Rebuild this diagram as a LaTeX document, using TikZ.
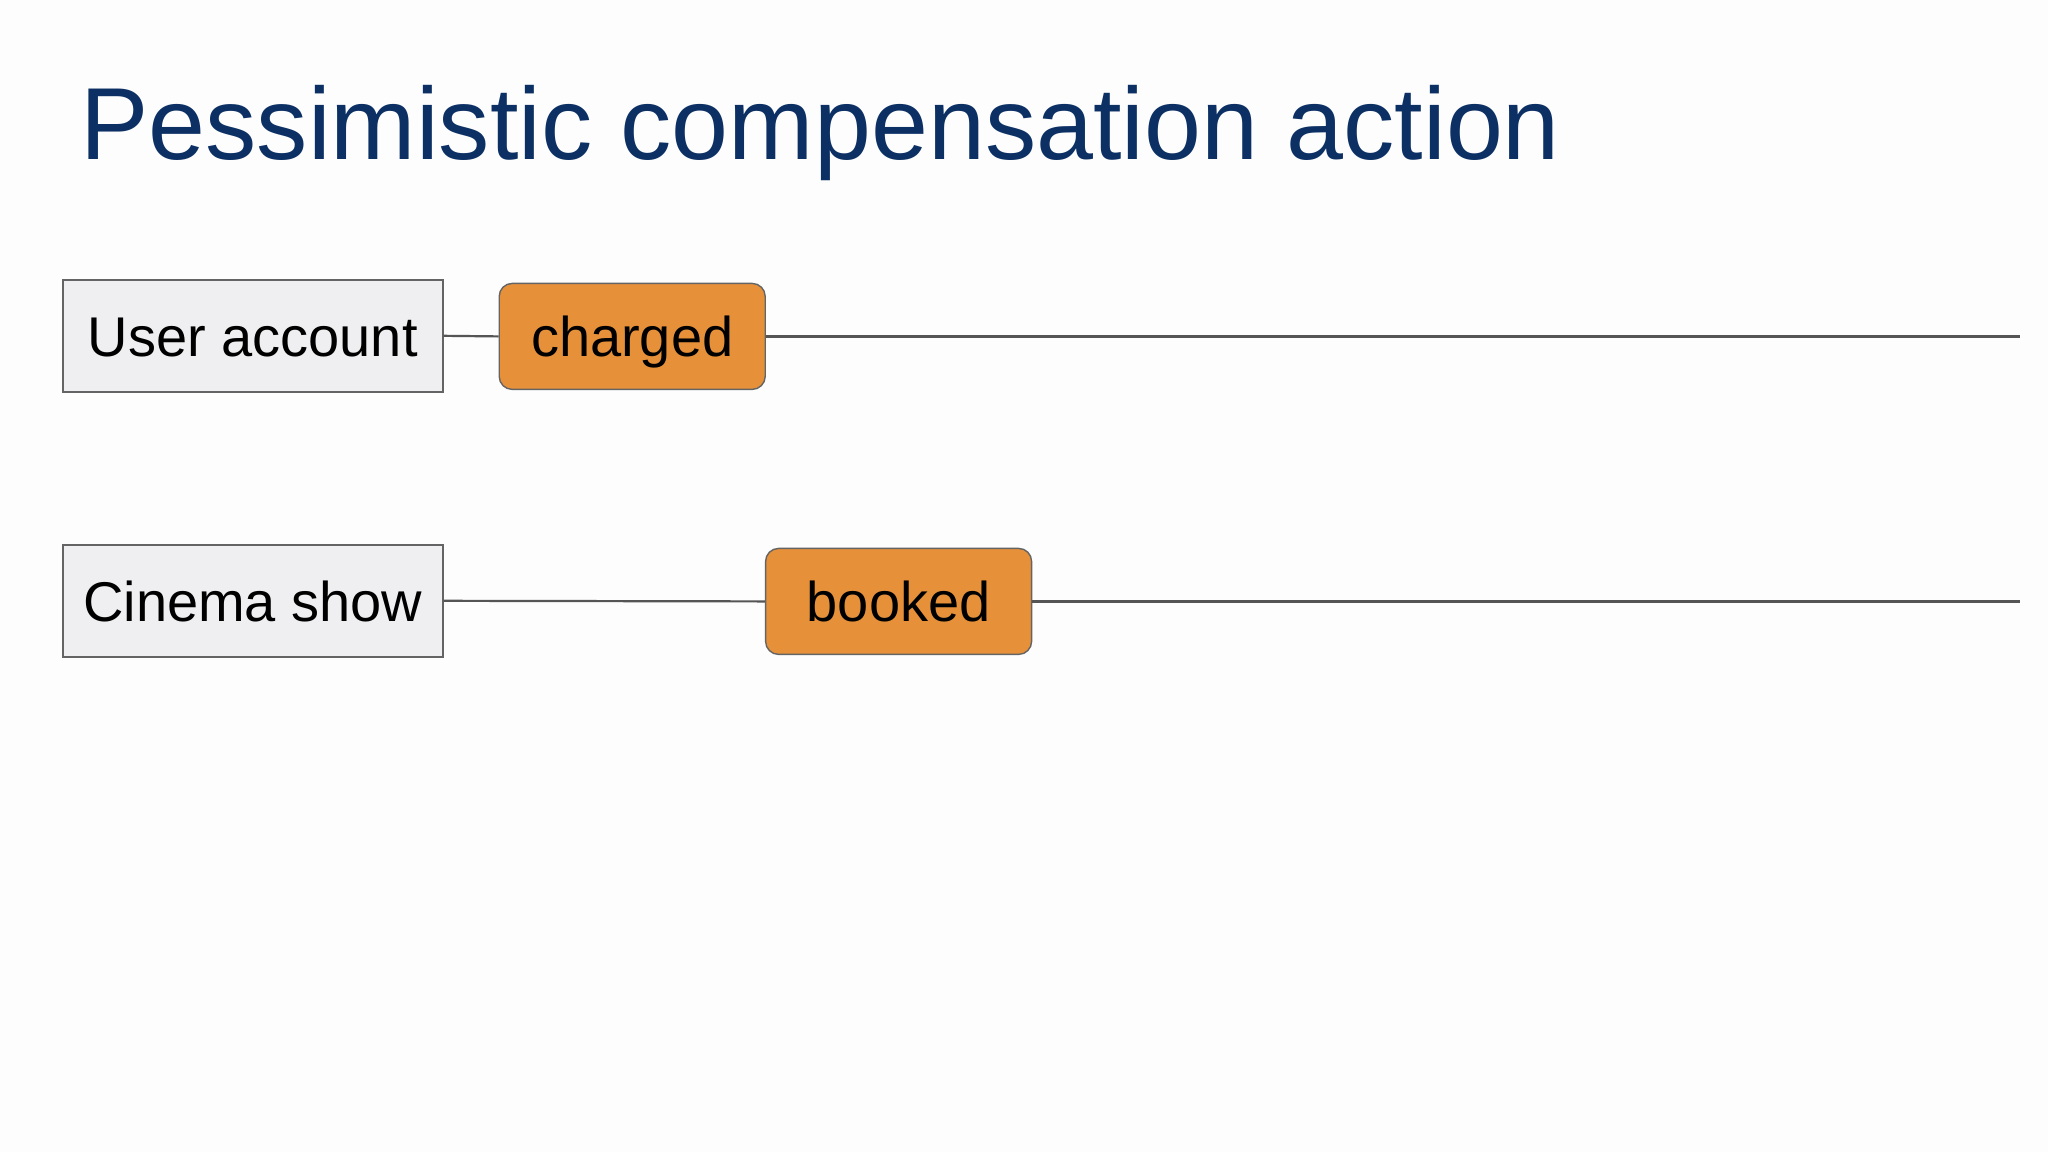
\documentclass[tikz,border=0pt]{standalone}
\usepackage{fontspec}
\setmainfont{Liberation Sans}
\definecolor{titleblue}{RGB}{12,48,100}
\definecolor{evorange}{RGB}{230,145,58}
\definecolor{entfill}{RGB}{239,238,240}
\definecolor{edgegray}{RGB}{100,100,100}
\definecolor{linegray}{RGB}{85,85,85}
\definecolor{bgcol}{RGB}{253,253,253}
\begin{document}
\begin{tikzpicture}[x=1pt,y=-1pt,
  entity/.style={draw=edgegray,line width=0.7pt,fill=entfill,minimum width=190pt,minimum height=56pt,inner sep=0pt,text height=23.5pt,text depth=3pt,font=\fontsize{28}{32}\selectfont},
  event/.style={draw=edgegray,line width=0.7pt,fill=evorange,rounded corners=6.5pt,minimum width=133pt,minimum height=53pt,inner sep=0pt,text height=23.5pt,text depth=3pt,font=\fontsize{28}{32}\selectfont},
  timeline/.style={draw=linegray,line width=1.1pt}]
\fill[bgcol] (0,0) rectangle (1024,576);
\useasboundingbox (0,0) rectangle (1024,576);
\node[anchor=base west,inner sep=0pt,text=titleblue,font=\fontsize{51.2}{60}\selectfont] (title) at (40,79.5) {Pessimistic compensation action};
\node[entity] (ua) at (126.4,167.9) {User account};
\node[event] (charged) at (316.1,168.2) {charged};
\coordinate (uaend) at (1010,168.2);
\node[entity] (cs) at (126.4,300.4) {Cinema show};
\node[event] (booked) at (449.3,300.7) {booked};
\coordinate (csend) at (1010,300.7);
\draw[timeline] (ua.east) -- (charged.west);
\draw[timeline] (charged.east) -- (uaend);
\draw[timeline] (cs.east) -- (booked.west);
\draw[timeline] (booked.east) -- (csend);
\end{tikzpicture}
\end{document}
